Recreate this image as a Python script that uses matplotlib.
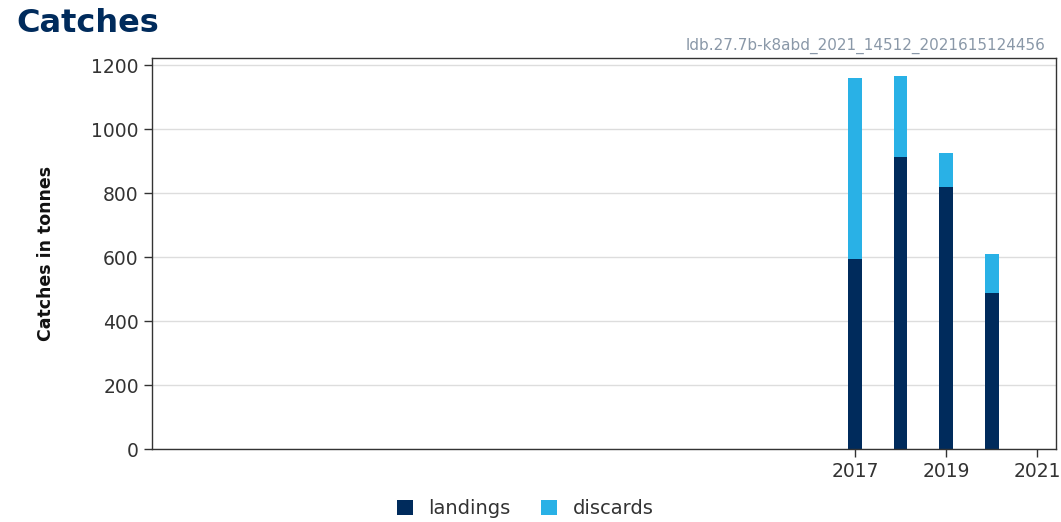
import matplotlib.pyplot as plt

years = [2017, 2018, 2019, 2020]
landings = [594, 912, 819, 487]
discards = [565, 254, 106, 122]

navy = "#002b5c"
sky = "#29b1e6"

fig = plt.figure(figsize=(10.61, 5.22), dpi=100)
ax = fig.add_axes([0.1433, 0.1398, 0.852, 0.749])

ax.bar(years, landings, width=0.3, color=navy, label="landings", zorder=2)
ax.bar(years, discards, width=0.3, bottom=landings, color=sky, label="discards", zorder=2)

ax.set_xlim(2001.58, 2021.41)
ax.set_ylim(0, 1222)
ax.set_xticks([2017, 2019, 2021])
ax.set_yticks(range(0, 1201, 200))
ax.yaxis.grid(True, color="#dddddd", linewidth=1, zorder=0)
ax.set_axisbelow(True)

for sp in ax.spines.values():
    sp.set_color("#333333")
    sp.set_linewidth(1)
ax.tick_params(colors="#333333", labelsize=13.5, length=6, width=1)

ax.set_ylabel("Catches in tonnes", fontsize=12.5, fontweight="bold", color="#111111")
ax.yaxis.set_label_coords(-0.107, 0.5)

fig.text(0.015, 0.955, "Catches", fontsize=23, fontweight="bold", color=navy, va="center")
fig.text(0.985, 0.913, "ldb.27.7b-k8abd_2021_14512_2021615124456", fontsize=11,
         color="#8a98a8", ha="right", va="center")

fig.legend(loc="center", bbox_to_anchor=(0.495, 0.025), ncol=2, frameon=False,
           fontsize=14, handlelength=0.8, handleheight=0.8, columnspacing=1.6,
           labelcolor="#333333")

fig.savefig("out.png", dpi=100)
